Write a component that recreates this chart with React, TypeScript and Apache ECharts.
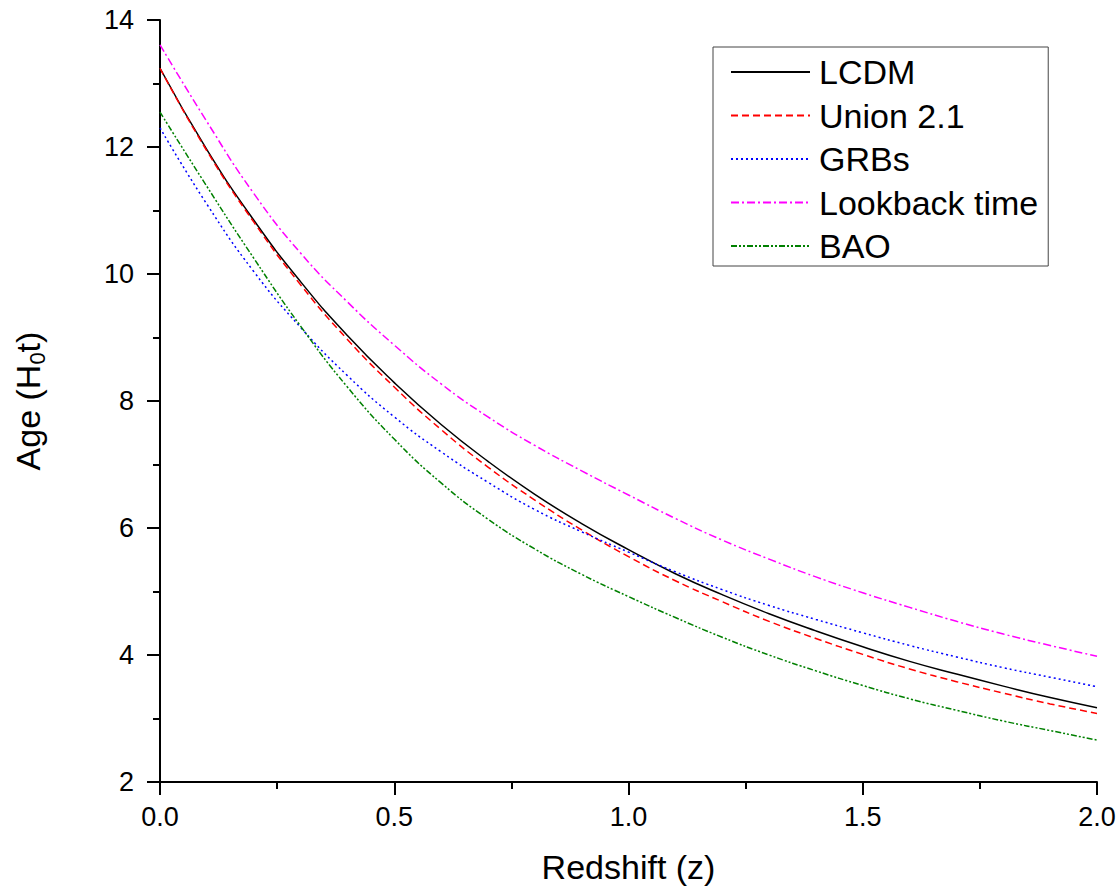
import React, { useEffect, useRef } from "react";
import * as echarts from "echarts";

const FONT = "'Liberation Sans', Arial, sans-serif";

const redshift = [0, 0.1, 0.2, 0.3, 0.4, 0.5, 0.6, 0.7, 0.8, 0.9, 1.0, 1.1, 1.2, 1.3, 1.4, 1.5, 1.6, 1.7, 1.8, 1.9, 2.0];

const lcdm = [13.24, 11.96, 10.85, 9.88, 9.03, 8.29, 7.63, 7.05, 6.53, 6.07, 5.66, 5.28, 4.95, 4.65, 4.38, 4.13, 3.90, 3.70, 3.51, 3.33, 3.17];
const union21 = [13.24, 11.94, 10.82, 9.83, 8.97, 8.22, 7.55, 6.96, 6.44, 5.97, 5.55, 5.17, 4.84, 4.53, 4.26, 4.01, 3.78, 3.58, 3.40, 3.23, 3.08];
const grbs = [12.30, 11.10, 10.04, 9.16, 8.40, 7.75, 7.20, 6.72, 6.29, 5.94, 5.62, 5.31, 5.03, 4.78, 4.56, 4.35, 4.15, 3.97, 3.80, 3.65, 3.50];
const lookback = [13.61, 12.40, 11.27, 10.33, 9.56, 8.88, 8.27, 7.75, 7.30, 6.90, 6.52, 6.15, 5.81, 5.51, 5.23, 4.98, 4.75, 4.53, 4.33, 4.15, 3.98];
const bao = [12.55, 11.38, 10.25, 9.18, 8.22, 7.40, 6.71, 6.14, 5.67, 5.27, 4.92, 4.59, 4.28, 4.00, 3.75, 3.52, 3.31, 3.13, 2.96, 2.81, 2.66];

const seriesNames = ["LCDM", "Union 2.1", "GRBs", "Lookback time", "BAO"];
const seriesValues = [lcdm, union21, grbs, lookback, bao];
const seriesColors = ["#000000", "#ff0000", "#0000ff", "#ff00ff", "#008000"];
const seriesDash: any[] = ["solid", [7, 4], [2, 3], [8, 3, 2, 3], [6, 2, 2, 2, 2, 2]];

const xTicks = { min: 0, max: 2, interval: 0.5 };
const yTicks = { min: 2, max: 14, interval: 2 };

export default function App() {
  const ref = useRef<HTMLDivElement>(null);
  useEffect(() => {
    document.body.style.margin = "0";
    const chart = echarts.init(ref.current!, undefined, { renderer: "svg" });
    const axisCommon = {
      axisLine: { show: true, onZero: false, lineStyle: { color: "#000", width: 2 } },
      axisTick: { show: true, inside: false, length: 13, lineStyle: { color: "#000", width: 2 } },
      minorTick: { show: true, splitNumber: 2, length: 7, lineStyle: { color: "#000", width: 2 } },
      splitLine: { show: false },
      minorSplitLine: { show: false },
    };
    chart.setOption({
      animation: false,
      backgroundColor: "#fff",
      grid: { left: 160, top: 20, width: 937, height: 762, containLabel: false },
      xAxis: {
        type: "value",
        ...xTicks,
        ...axisCommon,
        axisLabel: {
          fontSize: 27,
          color: "#000",
          fontFamily: FONT,
          margin: 21,
          formatter: (v: number) => v.toFixed(1),
        },
        name: "Redshift (z)",
        nameLocation: "middle",
        nameGap: 68,
        nameTextStyle: { fontSize: 34, color: "#000", fontFamily: FONT },
      },
      yAxis: {
        type: "value",
        ...yTicks,
        ...axisCommon,
        axisLabel: { fontSize: 27, color: "#000", fontFamily: FONT, margin: 26 },
        name: "Age (H{sub|0}t)",
        nameLocation: "middle",
        nameGap: 112,
        nameTextStyle: {
          fontSize: 34,
          color: "#000",
          fontFamily: FONT,
          lineHeight: 40,
          rich: {
            sub: { fontSize: 22, color: "#000", fontFamily: FONT, verticalAlign: "bottom", lineHeight: 16 },
          },
        },
      },
      legend: {
        orient: "vertical",
        left: 713,
        top: 47,
        itemWidth: 79,
        itemHeight: 14,
        itemGap: 9.5,
        padding: [8, 10, 3, 17],
        borderColor: "#444",
        borderWidth: 1,
        backgroundColor: "#fff",
        data: seriesNames,
        itemStyle: { opacity: 0 },
        textStyle: { fontSize: 34, color: "#000", fontFamily: FONT, lineHeight: 34, padding: [0, 0, 0, 4] },
      },
      series: seriesNames.map((name, i) => ({
        name,
        type: "line",
        data: redshift.map((z, k) => [z, seriesValues[i][k]]),
        smooth: true,
        symbol: "none",
        showSymbol: false,
        itemStyle: { color: seriesColors[i] },
        lineStyle: { color: seriesColors[i], width: 1.5, type: seriesDash[i] },
      })),
    });
    return () => chart.dispose();
  }, []);
  return <div ref={ref} style={{ width: 1120, height: 890 }} />;
}
